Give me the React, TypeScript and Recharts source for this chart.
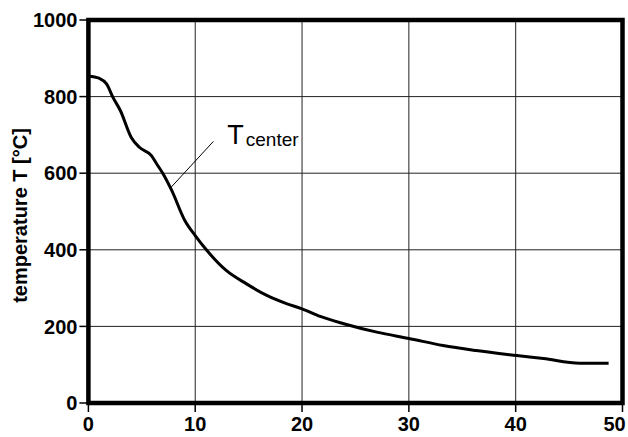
import {
  LineChart,
  Line,
  XAxis,
  YAxis,
  CartesianGrid,
  ReferenceArea,
  ReferenceLine,
  ReferenceDot,
} from 'recharts';

// time [min] and centre temperature [°C]
const timeMin = [0, 1, 1.7, 2.3, 3, 4, 4.8, 5.9, 6.4, 7, 7.8, 9, 10, 11.1, 12.9, 14.8, 16.7, 18.6, 20, 21.7, 23.9, 27, 30.1, 33.2, 36.3, 40.1, 42.6, 46, 48.7];
const tempCenter = [854, 848, 833, 798, 763, 694, 667, 646, 624, 598, 555, 478, 437, 398, 346, 311, 281, 259, 246, 226, 207, 185, 168, 150, 137, 124, 116, 104, 104];

const xTicks = [0, 10, 20, 30, 40, 50];
const yTicks = [0, 200, 400, 600, 800, 1000];

// annotation: label anchor and leader line ends (data units)
const labelAt = { x: 13.0, y: 677 };
const leader = [
  { x: 7.7, y: 562 },
  { x: 11.7, y: 683 },
];

const chartData = timeMin.map((t, i) => ({ t, temp: tempCenter[i] }));

const font = '"Liberation Sans", Arial, Helvetica, sans-serif';

function CenterLabel(props: any) {
  const vb = props.viewBox || {};
  const x = vb.x + (vb.width || 0) / 2;
  const y = vb.y + (vb.height || 0) / 2;
  return (
    <text x={x} y={y} fontFamily={font} fill="#000">
      <tspan fontSize={27}>T</tspan>
      <tspan fontSize={19} dx={2} dy={2}>center</tspan>
    </text>
  );
}

function AxisTitle(props: any) {
  const vb = props.viewBox || {};
  const x = 27;
  const y = vb.y + vb.height / 2 + 4;
  return (
    <text
      x={x}
      y={y}
      transform={`rotate(-90, ${x}, ${y})`}
      textAnchor="middle"
      fontFamily={font}
      fontWeight="bold"
      fontSize={20}
      fill="#000"
    >
      temperature T [°C]
    </text>
  );
}

function XTick(props: any) {
  const { x, y, payload } = props;
  // the last label is pulled in so it stays on the page
  const shift = payload.value === 50 ? -8 : 0;
  return (
    <text
      x={x + shift}
      y={y}
      dy="0.71em"
      textAnchor="middle"
      fontFamily={font}
      fontWeight="bold"
      fontSize={20}
      fill="#000"
    >
      {payload.value}
    </text>
  );
}

export default function App() {
  const tickStyle = { fontFamily: font, fontWeight: 'bold' as const, fontSize: 20, fill: '#000' };
  return (
    <div style={{ position: 'absolute', left: 0, top: 0, width: 628, height: 437, background: '#fff' }}>
      <LineChart width={628} height={437} data={chartData} margin={{ top: 20, right: 5.5, bottom: 0, left: 0 }}>
        <CartesianGrid stroke="#222" strokeWidth={1} />
        <XAxis
          dataKey="t"
          type="number"
          domain={[0, 50]}
          ticks={xTicks}
          height={34}
          tickSize={9}
          tickMargin={5}
          tick={<XTick />}
          axisLine={false}
          tickLine={{ stroke: '#000', strokeWidth: 1.5 }}
          interval={0}
        />
        <YAxis
          type="number"
          domain={[0, 1000]}
          ticks={yTicks}
          width={88.4}
          tickSize={9}
          tickMargin={2}
          tick={tickStyle}
          axisLine={false}
          tickLine={{ stroke: '#000', strokeWidth: 1.5 }}
          interval={0}
          label={<AxisTitle />}
        />
        <ReferenceArea x1={0} x2={50} y1={0} y2={1000} fill="none" stroke="#000" strokeWidth={4.5} />
        <ReferenceLine segment={leader} stroke="#000" strokeWidth={1} />
        <ReferenceDot x={labelAt.x} y={labelAt.y} r={0} fill="none" stroke="none" label={<CenterLabel />} />
        <Line
          type="monotone"
          dataKey="temp"
          stroke="#000"
          strokeWidth={3}
          dot={false}
          isAnimationActive={false}
        />
      </LineChart>
    </div>
  );
}
